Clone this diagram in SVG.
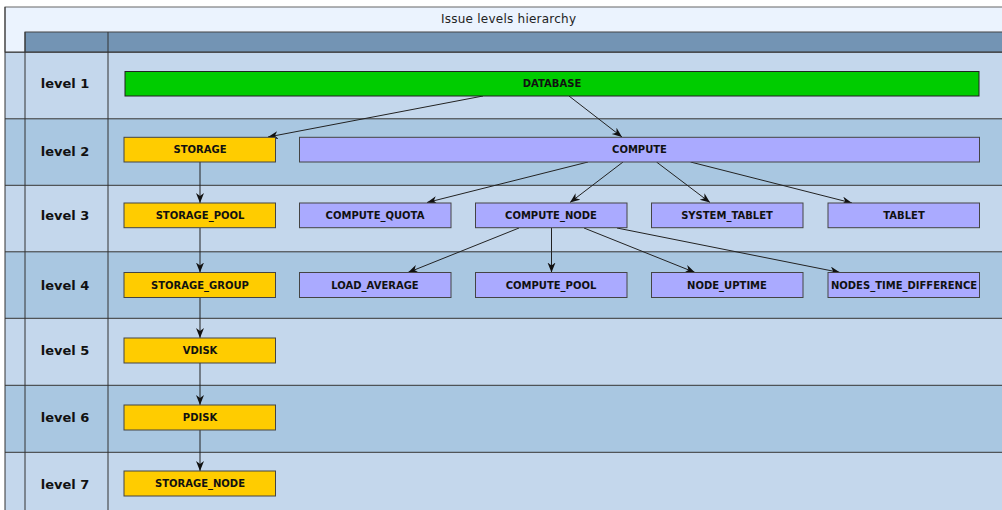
<svg xmlns="http://www.w3.org/2000/svg" width="1002" height="510" viewBox="0 0 1002 510">
<style>
.lbl{font-family:"DejaVu Sans","Liberation Sans",sans-serif;font-size:13px;font-weight:bold;fill:#111;text-anchor:middle}
.nt{font-family:"DejaVu Sans","Liberation Sans",sans-serif;font-size:10px;font-weight:bold;fill:#111;text-anchor:middle}
.title{font-family:"DejaVu Sans","Liberation Sans",sans-serif;font-size:12px;fill:#222;text-anchor:middle}
.rl{fill:#c4d7ec}
.rd{fill:#a9c7e1}
.grid{stroke:#333;stroke-width:1;fill:none}
.g{fill:#00cc00;stroke:#222;stroke-width:1}
.y{fill:#ffcc00;stroke:#444;stroke-width:1}
.p{fill:#aaaaff;stroke:#444;stroke-width:1}
.e{stroke:#222;stroke-width:1;fill:none}
</style>
<defs>
<marker id="ah" markerWidth="11" markerHeight="9" refX="10" refY="4" orient="auto" markerUnits="userSpaceOnUse">
<path d="M0,0 L10,4 L0,8 L3,4 z" fill="#111"/>
</marker>
</defs>
<rect x="0" y="0" width="1002" height="510" fill="#ffffff"/>
<g id="frame">
<rect x="5" y="7" width="1002" height="45" fill="#ebf3fe" stroke="#666" stroke-width="1"/>
<rect x="25" y="32" width="982" height="20" fill="#7394b4" stroke="#444" stroke-width="1"/>
<rect class="rl" x="5" y="52.3" width="1002" height="66.5"/>
<rect class="rd" x="5" y="118.8" width="1002" height="66.5"/>
<rect class="rl" x="5" y="185.3" width="1002" height="66.5"/>
<rect class="rd" x="5" y="251.8" width="1002" height="66.5"/>
<rect class="rl" x="5" y="318.3" width="1002" height="67"/>
<rect class="rd" x="5" y="385.3" width="1002" height="67"/>
<rect class="rl" x="5" y="452.3" width="1002" height="60"/>
<path class="grid" d="M5,52.3H1002M5,118.8H1002M5,185.3H1002M5,251.8H1002M5,318.3H1002M5,385.3H1002M5,452.3H1002"/>
<path class="grid" d="M5,7V510M25,32V510M108,32V510"/>
<text class="title" x="508.5" y="23" textLength="135" lengthAdjust="spacing">Issue levels hierarchy</text>
</g>
<g id="labels">
<text class="lbl" x="65" y="88">level 1</text>
<text class="lbl" x="65" y="156">level 2</text>
<text class="lbl" x="65" y="220">level 3</text>
<text class="lbl" x="65" y="290">level 4</text>
<text class="lbl" x="65" y="355">level 5</text>
<text class="lbl" x="65" y="422">level 6</text>
<text class="lbl" x="65" y="489">level 7</text>
</g>
<g id="connectors">
<path class="e" d="M483,96 L268,137" marker-end="url(#ah)"/>
<path class="e" d="M569,96 L622,137" marker-end="url(#ah)"/>
<path class="e" d="M588,162 L427,202.5" marker-end="url(#ah)"/>
<path class="e" d="M623,162 L570,202.5" marker-end="url(#ah)"/>
<path class="e" d="M656.5,162 L710,202.5" marker-end="url(#ah)"/>
<path class="e" d="M690.5,162 L852,203" marker-end="url(#ah)"/>
<path class="e" d="M519,228 L408,272.5" marker-end="url(#ah)"/>
<path class="e" d="M551.5,228 L551.5,272.5" marker-end="url(#ah)"/>
<path class="e" d="M584,228 L695,272.5" marker-end="url(#ah)"/>
<path class="e" d="M617,228 L840,272.5" marker-end="url(#ah)"/>
<path class="e" d="M200,162 L200,203" marker-end="url(#ah)"/>
<path class="e" d="M200,228 L200,272.5" marker-end="url(#ah)"/>
<path class="e" d="M200,297.5 L200,338" marker-end="url(#ah)"/>
<path class="e" d="M200,363 L200,405" marker-end="url(#ah)"/>
<path class="e" d="M200,430 L200,471" marker-end="url(#ah)"/>
</g>
<g id="DATABASE"><rect class="g" x="125" y="71.5" width="854" height="24.5"/><text class="nt" x="552" y="87">DATABASE</text></g>
<g id="STORAGE"><rect class="y" x="124" y="137.3" width="151.5" height="24.7"/><text class="nt" x="200" y="153">STORAGE</text></g>
<g id="COMPUTE"><rect class="p" x="299.5" y="137.3" width="680" height="24.7"/><text class="nt" x="639.5" y="153">COMPUTE</text></g>
<g id="STORAGE_POOL"><rect class="y" x="124" y="203" width="151.5" height="24.7"/><text class="nt" x="200" y="219">STORAGE_POOL</text></g>
<g id="COMPUTE_QUOTA"><rect class="p" x="299.5" y="203" width="151.5" height="24.7"/><text class="nt" x="375" y="219">COMPUTE_QUOTA</text></g>
<g id="COMPUTE_NODE"><rect class="p" x="475.5" y="203" width="151.5" height="24.7"/><text class="nt" x="551" y="219">COMPUTE_NODE</text></g>
<g id="SYSTEM_TABLET"><rect class="p" x="651.5" y="203" width="151.5" height="24.7"/><text class="nt" x="727" y="219">SYSTEM_TABLET</text></g>
<g id="TABLET"><rect class="p" x="828" y="203" width="151.5" height="24.7"/><text class="nt" x="904" y="219">TABLET</text></g>
<g id="STORAGE_GROUP"><rect class="y" x="124" y="272.5" width="151.5" height="25"/><text class="nt" x="200" y="289">STORAGE_GROUP</text></g>
<g id="LOAD_AVERAGE"><rect class="p" x="299.5" y="272.5" width="151.5" height="25"/><text class="nt" x="375" y="289">LOAD_AVERAGE</text></g>
<g id="COMPUTE_POOL"><rect class="p" x="475.5" y="272.5" width="151.5" height="25"/><text class="nt" x="551" y="289">COMPUTE_POOL</text></g>
<g id="NODE_UPTIME"><rect class="p" x="651.5" y="272.5" width="151.5" height="25"/><text class="nt" x="727" y="289">NODE_UPTIME</text></g>
<g id="NODES_TIME_DIFFERENCE"><rect class="p" x="828" y="272.5" width="151.5" height="25"/><text class="nt" x="904" y="289">NODES_TIME_DIFFERENCE</text></g>
<g id="VDISK"><rect class="y" x="124" y="338" width="151.5" height="25"/><text class="nt" x="200" y="354">VDISK</text></g>
<g id="PDISK"><rect class="y" x="124" y="405" width="151.5" height="25"/><text class="nt" x="200" y="421">PDISK</text></g>
<g id="STORAGE_NODE"><rect class="y" x="124" y="471" width="151.5" height="25"/><text class="nt" x="200" y="487">STORAGE_NODE</text></g>
</svg>
